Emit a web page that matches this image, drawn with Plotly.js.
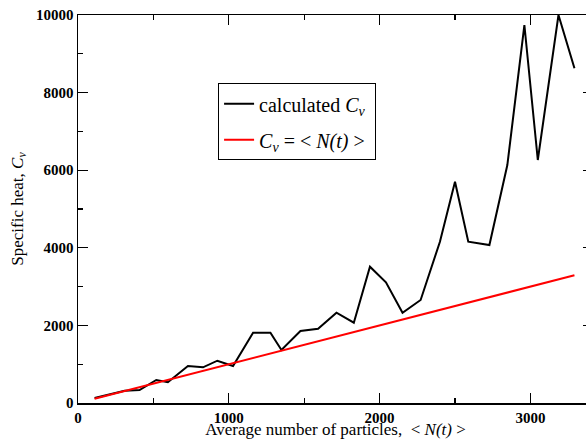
<!DOCTYPE html>
<html>
<head>
<meta charset="utf-8">
<script src="https://cdn.plot.ly/plotly-3.0.1.min.js"></script>
<style>
html,body{margin:0;padding:0;overflow:hidden;background:#fff;}
#chart{width:593px;height:439px;}
</style>
</head>
<body>
<div id="chart"></div>
<script>
const particles = [110, 210, 309, 408, 519, 596, 729, 829, 924, 1028, 1161, 1276, 1349, 1475, 1592, 1714, 1829, 1936, 2042, 2152, 2272, 2400, 2500, 2588, 2728, 2847, 2960, 3049, 3186, 3292];
const calculatedCv = [129, 225, 317, 335, 593, 534, 954, 920, 1090, 954, 1812, 1812, 1366, 1856, 1915, 2327, 2070, 3513, 3110, 2327, 2655, 4157, 5704, 4157, 4072, 6134, 9742, 6263, 10000, 8626];
const lineX = [110, 3292];
const lineY = [110, 3292];
const xTicks = [0, 1000, 2000, 3000];
const yTicks = [0, 2000, 4000, 6000, 8000, 10000];

const serif = "Liberation Serif";

const traces = [
  {x: particles, y: calculatedCv, mode: 'lines', name: 'calculated <i>C</i><sub><i>v</i></sub>&nbsp;',
   line: {color: '#000000', width: 2}, legendgroup: 'a', cliponaxis: false},
  {x: lineX, y: lineY, mode: 'lines', name: '<i>C</i><sub><i>v</i></sub> = &lt; <i>N(t)</i> &gt;&nbsp;',
   line: {color: '#ff0000', width: 2}, legendgroup: 'b'}
];

const axisCommon = {
  showgrid: false, zeroline: false, showline: true, linecolor: '#000', linewidth: 1.5,
  mirror: 'allticks', ticks: 'inside', ticklen: 10, tickwidth: 1.2, tickcolor: '#000',
  tickfont: {family: serif, size: 15, color: '#000'}
};

const layout = {
  width: 593, height: 439,
  margin: {l: 78, r: 0, t: 15, b: 36},
  paper_bgcolor: '#fff', plot_bgcolor: '#fff',
  font: {family: serif, color: '#000'},
  showlegend: true,
  legend: {x: 0.272, y: 0.824, xanchor: 'left', yanchor: 'top',
    bordercolor: '#000', borderwidth: 1, bgcolor: '#fff',
    font: {family: serif, size: 20, color: '#000'},
    traceorder: 'grouped', tracegroupgap: 7},
  xaxis: Object.assign({}, axisCommon, {
    range: [0, 3415], tickvals: xTicks, ticktext: xTicks.map(v => '<b>' + v + '</b>'),
    minor: {tickvals: [500, 1500, 2500], ticks: 'inside', ticklen: 5, tickcolor: '#000', tickwidth: 1.2},
    title: {text: 'Average number of particles,&nbsp;&nbsp;&lt; <i>N(t)</i> &gt;', standoff: 10,
      font: {family: serif, size: 17, color: '#000'}}
  }),
  yaxis: Object.assign({}, axisCommon, {
    range: [0, 10000], tickvals: yTicks, ticktext: yTicks.map(v => '<b>' + v + '</b>'),
    minor: {tickvals: [1000, 3000, 5000, 7000, 9000], ticks: 'inside', ticklen: 5, tickcolor: '#000', tickwidth: 1.2},
    title: {text: 'Specific heat, <i>C</i><sub><i>v</i></sub>', standoff: 8,
      font: {family: serif, size: 17, color: '#000'}}
  })
};

Plotly.newPlot('chart', traces, layout, {displayModeBar: false, staticPlot: true});
</script>
</body>
</html>
